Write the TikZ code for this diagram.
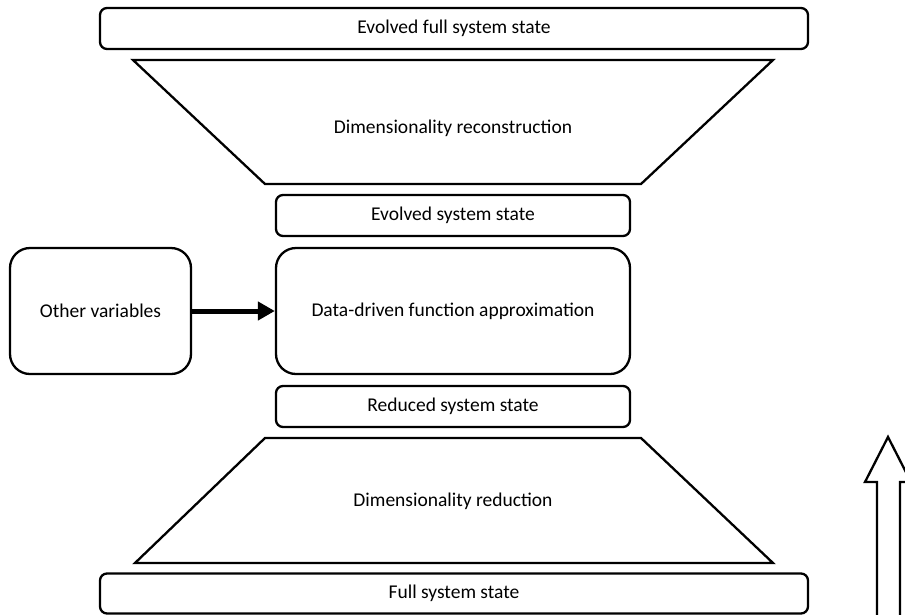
\documentclass[tikz,border=0pt]{standalone}
\usepackage{fontspec}
\setmainfont{Carlito}
\usetikzlibrary{arrows.meta}
\begin{document}
\begin{tikzpicture}[x=1pt,y=-1pt,
  every node/.style={font=\fontsize{19.5}{23}\selectfont},
  statebox/.style={draw, line width=2.3pt, rounded corners=7pt, inner sep=0pt, text depth=0pt, text height=9pt},
  bigbox/.style={draw, line width=2.3pt, rounded corners=20pt, inner sep=0pt},
  outline/.style={draw, line width=2.3pt, line join=miter},
  textlabel/.style={inner sep=0pt}]
\useasboundingbox (0,0) rectangle (905,614);
\clip (0,0) rectangle (905,614);

% top and bottom full-state bars
\node[statebox, minimum width=708pt, minimum height=41pt] (evfull) at (454,28.5) {Evolved full system state};
\node[statebox, minimum width=708pt, minimum height=40pt] (full) at (454,593.5) {Full system state};

% reconstruction trapezoid (wide side up)
\draw[outline] (133,60) -- (773,60) -- (641,184) -- (265,184) -- cycle;
\node[textlabel] (recon) at (453,128) {Dimensionality reconstruction};

% reduction trapezoid (wide side down)
\draw[outline] (265,438) -- (641,438) -- (773,563) -- (135,563) -- cycle;
\node[textlabel] (reduc) at (453,501) {Dimensionality reduction};

% reduced-space boxes
\node[statebox, minimum width=354pt, minimum height=41pt] (evred) at (453,215.5) {Evolved system state};
\node[bigbox, minimum width=354pt, minimum height=126pt] (model) at (453,311) {Data-driven function approximation};
\node[statebox, minimum width=354pt, minimum height=41pt] (red) at (453,406.5) {Reduced system state};

% extra inputs
\node[bigbox, minimum width=181pt, minimum height=126pt] (other) at (100.5,311) {Other variables};
\draw[line width=5pt, -{Triangle[length=17pt,width=18pt]}] (other.east) -- (model.west);

% upward block arrow at the right edge
\coordinate (tip) at (888,437);
\draw[outline, fill=white] (877,640) -- (877,482) -- (865,482) -- (tip) -- (911,482) -- (900,482) -- (900,640) -- cycle;
\end{tikzpicture}
\end{document}
